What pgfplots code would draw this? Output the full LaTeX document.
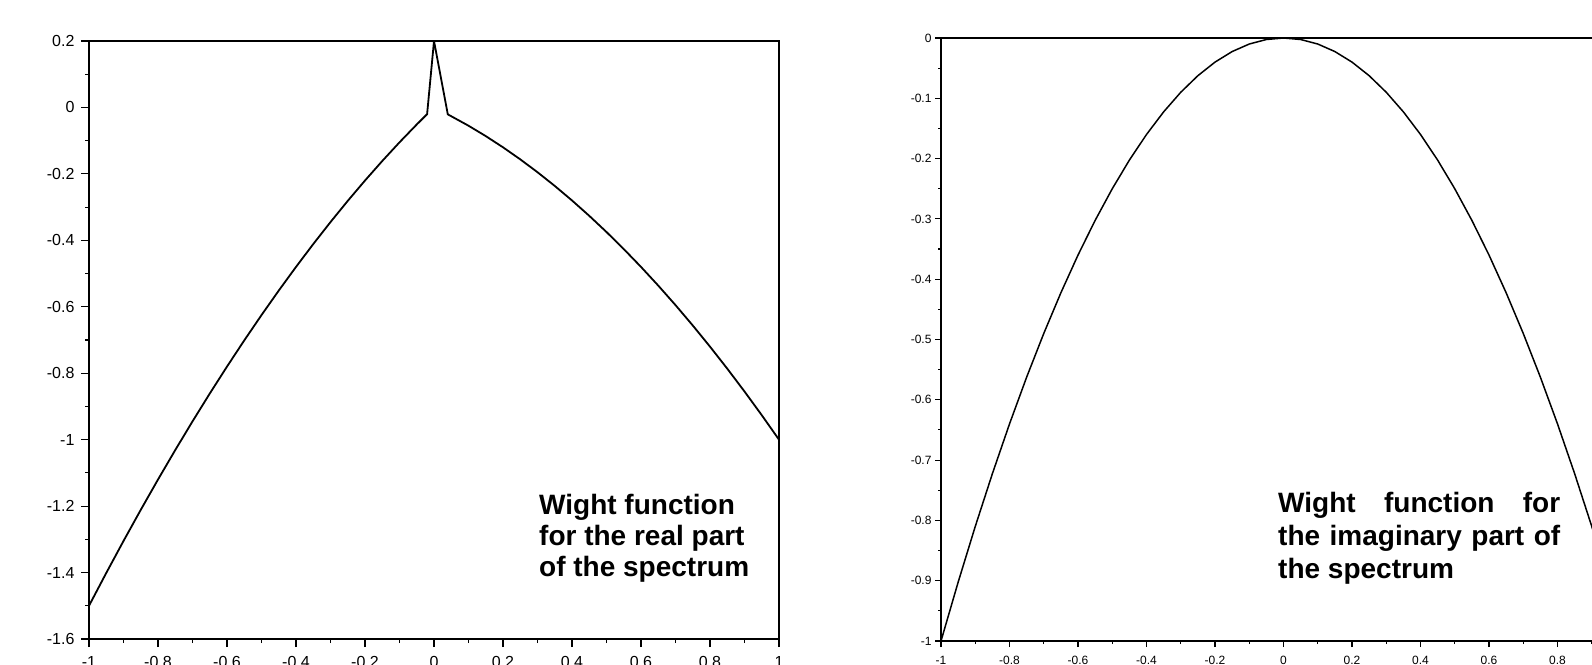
\documentclass[border=0pt]{standalone}
\usepackage{fontspec}
\setmainfont{Liberation Sans}
\usepackage{pgfplots}
\pgfplotsset{compat=1.18}
\begin{document}
\begin{tikzpicture}[x=1pt,y=1pt]
\useasboundingbox (0,0) rectangle (1592,664);
\clip (0,0) rectangle (1592,664);
\begin{axis}[
  at={(89pt,25pt)}, anchor=south west, scale only axis,
  width=690pt, height=598pt,
  xmin=-1, xmax=1, ymin=-1.6, ymax=0.2,
  xtick={-1,-0.8,-0.6,-0.4,-0.2,0,0.2,0.4,0.6,0.8,1},
  ytick={-1.6,-1.4,-1.2,-1,-0.8,-0.6,-0.4,-0.2,0,0.2},
  minor tick num=1,
  tick align=outside, tick pos=left,
  major tick length=8pt, minor tick length=4pt,
  every tick/.style={black, line width=1.2pt},
  axis line style={black, line width=1.4pt},
  /pgf/number format/assume math mode=true,
  tick label style={font=\fontsize{16}{19}\selectfont},
  xticklabel style={yshift=-6pt},
  yticklabel style={xshift=-3pt},
]
\addplot[black, line width=1.8pt] coordinates {
(-1,-1.5) (-0.95,-1.40125) (-0.9,-1.305) (-0.85,-1.21125) (-0.8,-1.12)
(-0.75,-1.03125) (-0.7,-0.945) (-0.65,-0.86125) (-0.6,-0.78) (-0.55,-0.70125)
(-0.5,-0.625) (-0.45,-0.55125) (-0.4,-0.48) (-0.35,-0.41125) (-0.3,-0.345)
(-0.25,-0.28125) (-0.2,-0.22) (-0.15,-0.16125) (-0.1,-0.105) (-0.05,-0.05125)
(-0.02,-0.0202) (0,0.2) (0.04,-0.0208) (0.1,-0.055) (0.15,-0.08625)
(0.2,-0.12) (0.25,-0.15625) (0.3,-0.195) (0.35,-0.23625) (0.4,-0.28)
(0.45,-0.32625) (0.5,-0.375) (0.55,-0.42625) (0.6,-0.48) (0.65,-0.53625)
(0.7,-0.595) (0.75,-0.65625) (0.8,-0.72) (0.85,-0.78625) (0.9,-0.855)
(0.95,-0.92625) (1,-1)
};
\end{axis}
\begin{axis}[
  at={(941pt,23pt)}, anchor=south west, scale only axis,
  width=685pt, height=603pt,
  xmin=-1, xmax=1, ymin=-1, ymax=0,
  xtick={-1,-0.8,-0.6,-0.4,-0.2,0,0.2,0.4,0.6,0.8,1},
  ytick={-1,-0.9,-0.8,-0.7,-0.6,-0.5,-0.4,-0.3,-0.2,-0.1,0},
  minor tick num=1,
  tick align=outside, tick pos=left,
  major tick length=6pt, minor tick length=3pt,
  every tick/.style={black, line width=1.1pt},
  axis line style={black, line width=1.4pt},
  /pgf/number format/assume math mode=true,
  tick label style={font=\fontsize{12}{14}\selectfont},
  xticklabel style={yshift=-6pt},
]
\addplot[black, line width=1.5pt] coordinates {
(-1,-1) (-0.95,-0.9025) (-0.9,-0.81) (-0.85,-0.7225) (-0.8,-0.64)
(-0.75,-0.5625) (-0.7,-0.49) (-0.65,-0.4225) (-0.6,-0.36) (-0.55,-0.3025)
(-0.5,-0.25) (-0.45,-0.2025) (-0.4,-0.16) (-0.35,-0.1225) (-0.3,-0.09)
(-0.25,-0.0625) (-0.2,-0.04) (-0.15,-0.0225) (-0.1,-0.01) (-0.05,-0.0025)
(0,0) (0.05,-0.0025) (0.1,-0.01) (0.15,-0.0225) (0.2,-0.04)
(0.25,-0.0625) (0.3,-0.09) (0.35,-0.1225) (0.4,-0.16) (0.45,-0.2025)
(0.5,-0.25) (0.55,-0.3025) (0.6,-0.36) (0.65,-0.4225) (0.7,-0.49)
(0.75,-0.5625) (0.8,-0.64) (0.85,-0.7225) (0.9,-0.81) (0.95,-0.9025)
(1,-1)
};
\end{axis}
\node[anchor=north west, inner sep=0pt, align=left,
  font={\fontsize{28}{31}\selectfont\bfseries}] at (539,170)
  {Wight function\\for the real part\\of the spectrum};
\node[anchor=north west, inner sep=0pt, text width=282pt, align=justify,
  font={\fontsize{28}{33}\selectfont\bfseries}] at (1278,172)
  {Wight function for\linebreak the imaginary part of\linebreak the spectrum};
\end{tikzpicture}
\end{document}
